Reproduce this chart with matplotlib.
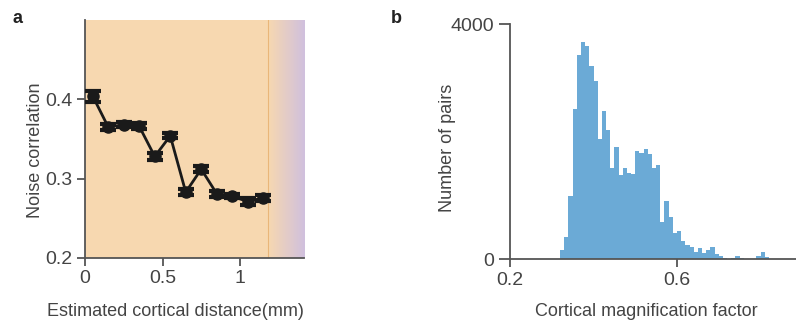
import matplotlib
matplotlib.use('Agg')
import matplotlib.pyplot as plt
import numpy as np
from matplotlib.colors import LinearSegmentedColormap

plt.rcParams['font.family'] = ['Liberation Sans', 'DejaVu Sans']
plt.rcParams['font.size'] = 13

# panel a: noise correlation vs distance
dist = [0.05, 0.15, 0.25, 0.35, 0.45, 0.55, 0.65, 0.75, 0.85, 0.95, 1.05, 1.15]
noise_corr = [0.404, 0.365, 0.368, 0.366, 0.328, 0.354, 0.283, 0.312, 0.281, 0.278, 0.271, 0.276]
noise_err = [0.007, 0.004, 0.003, 0.004, 0.004, 0.003, 0.004, 0.004, 0.004, 0.003, 0.004, 0.004]

# panel b: histogram of cortical magnification factor
bin_edges = np.round(np.arange(0.32, 0.8201, 0.01), 2)
counts = [159, 374, 1084, 2553, 3478, 3705, 3637, 3291, 3036, 2043,
          2525, 2202, 1549, 1912, 1436, 1560, 1475, 1447, 1850, 1804,
          1884, 1787, 1549, 1600, 641, 987, 721, 443, 477, 318,
          244, 216, 130, 187, 102, 159, 210, 85, 57, 28,
          11, 23, 57, 23, 11, 11, 11, 57, 125, 45]

txt = '#444444'
spine_c = '#555555'

fig = plt.figure(figsize=(7.96, 3.22), dpi=100)

ax1 = fig.add_axes([0.1068, 0.1988, 0.2751, 0.739])
ax1.axvspan(0, 1.18, color='#F7D8B0', lw=0, zorder=0)
grad = LinearSegmentedColormap.from_list('g', ['#F7D8B0', '#D0C0DE'])
ax1.imshow(np.linspace(0, 1, 100)[None, :], cmap=grad, aspect='auto',
           extent=[1.18, 1.413, 0.2, 0.5], zorder=0)
ax1.axvline(1.18, color='#E9B679', lw=0.8, zorder=1)
ax1.errorbar(dist, noise_corr, yerr=noise_err, color='#1a1a1a', marker='o', ms=8,
             lw=2, elinewidth=2.5, capsize=6, capthick=3, zorder=3)
ax1.set_xlim(0, 1.413)
ax1.set_ylim(0.2, 0.5)
ax1.set_xticks([0, 0.5, 1])
ax1.set_xticklabels(['0', '0.5', '1'])
ax1.set_yticks([0.2, 0.3, 0.4])
ax1.set_ylabel('Noise correlation', color=txt, labelpad=1)
ax1.set_xlabel('Estimated cortical distance(mm)', color=txt, labelpad=11)
ax1.xaxis.label.set_x(0.415)
ax1.yaxis.label.set_y(0.454)

ax2 = fig.add_axes([0.6407, 0.1947, 0.3593, 0.73])
ax2.stairs(counts, bin_edges, fill=True, color='#6BAAD6', lw=0)
ax2.set_xlim(0.2, 0.885)
ax2.set_ylim(0, 4000)
ax2.set_xticks([0.2, 0.6])
ax2.set_yticks([0, 4000])
ax2.set_ylabel('Number of pairs', color=txt, labelpad=-4)
ax2.set_xlabel('Cortical magnification factor', color=txt, labelpad=10)
ax2.xaxis.label.set_x(0.478)
ax2.yaxis.label.set_y(0.475)

for ax in (ax1, ax2):
    for s in ('top', 'right'):
        ax.spines[s].set_visible(False)
    for s in ('left', 'bottom'):
        ax.spines[s].set_color(spine_c)
        ax.spines[s].set_linewidth(1.3)
    ax.tick_params(colors=spine_c, labelcolor=txt, length=5.5, width=1.3, labelsize=14)
ax2.tick_params(axis='y', length=8)

fig.text(0.016, 0.93, 'a', fontsize=13, fontweight='bold', color='#222222')
fig.text(0.491, 0.93, 'b', fontsize=13, fontweight='bold', color='#222222')

fig.savefig('out.png', dpi=100)
